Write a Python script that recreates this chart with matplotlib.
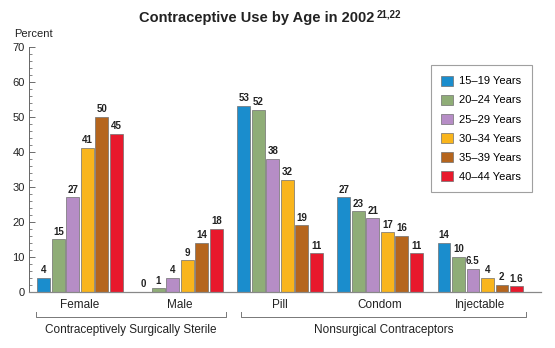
import numpy as np
import matplotlib.pyplot as plt
from matplotlib.ticker import MultipleLocator
from matplotlib.transforms import blended_transform_factory

plt.rcParams['font.family'] = ['Liberation Sans', 'DejaVu Sans']

# data
categories = ['Female', 'Male', 'Pill', 'Condom', 'Injectable']
age_groups = ['15\u201319 Years', '20\u201324 Years', '25\u201329 Years',
              '30\u201334 Years', '35\u201339 Years', '40\u201344 Years']
values = [
    [4, 0, 53, 27, 14],
    [15, 1, 52, 23, 10],
    [27, 4, 38, 21, 6.5],
    [41, 9, 32, 17, 4],
    [50, 14, 19, 16, 2],
    [45, 18, 11, 11, 1.6],
]
colors = ['#1a8dcd', '#8fad77', '#b68dc6', '#f9b51c', '#b5651d', '#e8192c']
bracket_groups = [('Contraceptively Surgically Sterile', -0.44, 1.46),
                  ('Nonsurgical Contraceptors', 1.61, 4.46)]

fig = plt.figure(figsize=(5.55, 3.48), dpi=100)
ax = fig.add_axes([0.0523, 0.161, 0.9227, 0.705])

x = np.arange(len(categories))
pitch = 0.145
width = 0.127
for i, (vals, c, lab) in enumerate(zip(values, colors, age_groups)):
    pos = x + (i - 2.5) * pitch
    ax.bar(pos, vals, width, color=c, edgecolor='#707070', linewidth=0.5, label=lab)
    for p, v in zip(pos, vals):
        ax.text(p, v + 0.8, '%g' % v, ha='center', va='bottom',
                fontsize=7, fontweight='bold', color='#222222')

ax.set_xlim(-0.51, 4.61)
ax.set_ylim(0, 70)
ax.yaxis.set_major_locator(MultipleLocator(10))
ax.yaxis.set_minor_locator(MultipleLocator(2))
ax.tick_params(axis='y', which='major', direction='in', length=4, width=0.6,
               labelsize=8, colors='#555555', labelcolor='#222222', pad=3)
ax.tick_params(axis='y', which='minor', direction='in', length=2, width=0.5, colors='#555555')
ax.set_xticks(x)
ax.set_xticklabels(categories, fontsize=8.5, color='#222222')
ax.tick_params(axis='x', length=0, pad=5)

for s in ['top', 'right']:
    ax.spines[s].set_visible(False)
ax.spines['left'].set_color('#666666')
ax.spines['bottom'].set_color('#888888')
ax.spines['left'].set_linewidth(0.7)
ax.spines['bottom'].set_linewidth(0.9)

# brackets under the categories
tr = blended_transform_factory(ax.transData, ax.transAxes)
for name, x0, x1 in bracket_groups:
    ax.plot([x0, x0, x1, x1], [-0.08, -0.104, -0.104, -0.08], color='#777777',
            linewidth=0.7, transform=tr, clip_on=False)
    ax.text((x0 + x1) / 2, -0.13, name, transform=tr, ha='center', va='top',
            fontsize=8.5, color='#222222')

leg = ax.legend(loc='upper right', bbox_to_anchor=(0.982, 0.925), fontsize=8,
                frameon=True, fancybox=False, handlelength=1.0, handleheight=1.0,
                labelspacing=0.75, borderpad=0.95, handletextpad=0.6, borderaxespad=0)
leg.get_frame().set_edgecolor('#888888')
leg.get_frame().set_linewidth(0.8)

title = fig.text(0.462, 0.948, 'Contraceptive Use by Age in 2002',
                 ha='center', va='center', fontsize=10.5, fontweight='bold', color='#222222')
ax.annotate('21,22', xy=(1, 1), xycoords=title, xytext=(2, 1), textcoords='offset points',
            ha='left', va='top', fontsize=7, fontweight='bold', color='#222222',
            annotation_clip=False)
fig.text(0.025, 0.903, 'Percent', ha='left', va='center', fontsize=8, color='#222222')

fig.savefig('out.png', dpi=100)
